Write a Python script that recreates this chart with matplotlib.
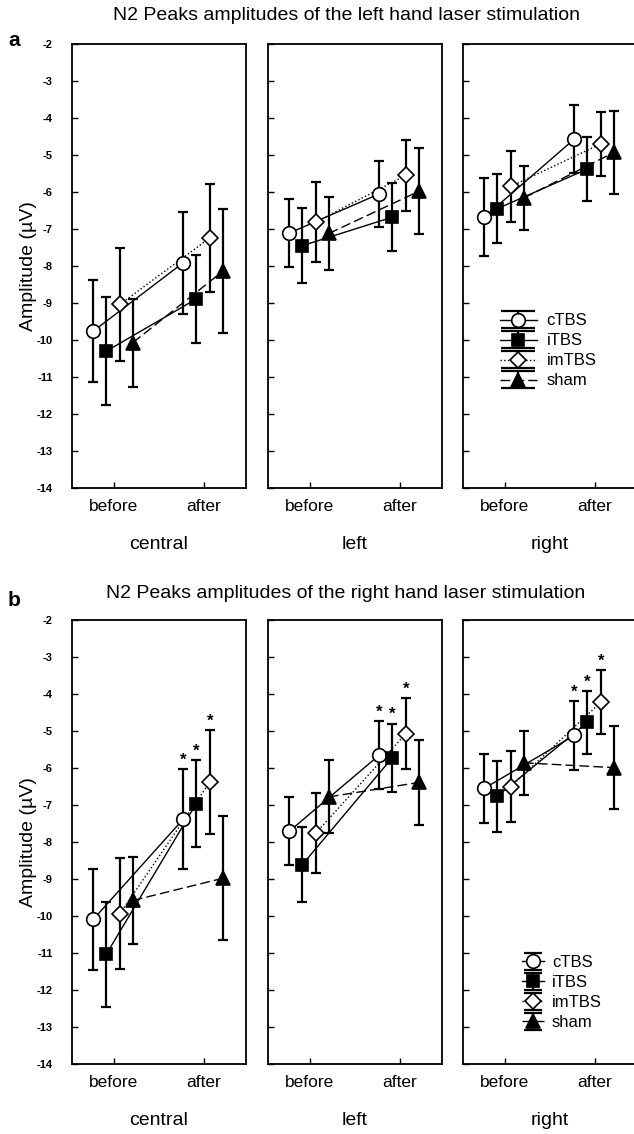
import matplotlib
matplotlib.use('Agg')
import matplotlib.pyplot as plt
import numpy as np
from matplotlib.lines import Line2D
from matplotlib.collections import LineCollection
from matplotlib.container import ErrorbarContainer

plt.rcParams['font.family'] = ['Liberation Sans', 'DejaVu Sans']
plt.rcParams['axes.unicode_minus'] = False

conditions = ['cTBS', 'iTBS', 'imTBS', 'sham']
sites = ['central', 'left', 'right']
times = ['before', 'after']

# N2 amplitudes (uV), [before, after] per condition
# panel a: left hand laser stimulation
lh_central_mean = [[-9.76, -7.91], [-10.30, -8.89], [-9.04, -7.24], [-10.07, -8.14]]
lh_central_err = [[1.37, 1.38], [1.45, 1.19], [1.52, 1.45], [1.19, 1.68]]
lh_left_mean = [[-7.11, -6.05], [-7.45, -6.68], [-6.81, -5.55], [-7.12, -5.98]]
lh_left_err = [[0.92, 0.90], [1.02, 0.91], [1.07, 0.96], [0.99, 1.16]]
lh_right_mean = [[-6.68, -4.57], [-6.45, -5.38], [-5.85, -4.70], [-6.16, -4.93]]
lh_right_err = [[1.05, 0.92], [0.94, 0.86], [0.97, 0.86], [0.87, 1.13]]

# panel b: right hand laser stimulation
rh_central_mean = [[-10.09, -7.38], [-11.03, -6.96], [-9.94, -6.38], [-9.58, -8.98]]
rh_central_err = [[1.37, 1.35], [1.42, 1.18], [1.50, 1.40], [1.18, 1.67]]
rh_left_mean = [[-7.71, -5.65], [-8.61, -5.72], [-7.76, -5.07], [-6.78, -6.39]]
rh_left_err = [[0.92, 0.91], [1.02, 0.92], [1.09, 0.96], [0.99, 1.16]]
rh_right_mean = [[-6.55, -5.12], [-6.76, -4.77], [-6.50, -4.22], [-5.86, -5.99]]
rh_right_err = [[0.93, 0.94], [0.96, 0.85], [0.95, 0.87], [0.86, 1.13]]

# significant "after" values (asterisks) in panel b
rh_signif = [True, True, True, False]

yticks = list(range(-14, -1))

# styling per condition
offsets = [-0.23, -0.085, 0.065, 0.21]
markers = ['o', 's', 'D', '^']
faces = ['white', 'black', 'white', 'black']
msizes = [9.8, 9.3, 7.8, 9.8]
lstyles = ['-', '-', ':', (0, (7, 3))]

W, H = 634, 1134
fig = plt.figure(figsize=(W / 100, H / 100), dpi=100)

lefts = [72, 268, 463]
widths = [174, 174, 180]   # last box runs past the right edge of the image
ax_h = 444
px_per_unit = 90.0


def make_ax(left, top, w):
    return fig.add_axes([left / W, 1 - (top + ax_h) / H, w / W, ax_h / H])


def legend_handles(capsize):
    hs = []
    for k in range(4):
        ln = Line2D([], [], color='black', lw=1.0, ls=lstyles[k], marker=markers[k],
                    ms=msizes[k], mfc=faces[k], mec='black', mew=1.2)
        cap = Line2D([], [], color='black', ls='none', marker='_', ms=2 * capsize, mew=1.6)
        bar = LineCollection([], colors='black', linewidths=1.6)
        hs.append(ErrorbarContainer((ln, (cap, cap), (bar,)), has_xerr=False, has_yerr=True))
    return hs


def draw_panel(ax, w, means, errs, signif=None, show_ylabels=False, site=''):
    for k in range(4):
        x = np.arange(2) + offsets[k]
        y = np.array(means[k])
        e = np.array(errs[k])
        ax.plot(x, y, color='black', lw=1.0, ls=lstyles[k], zorder=2)
        ax.errorbar(x, y, yerr=e, fmt='none', ecolor='black', elinewidth=1.6,
                    capsize=3.6, capthick=1.6, zorder=3)
        ax.plot(x, y, ls='none', marker=markers[k], ms=msizes[k], mfc=faces[k],
                mec='black', mew=1.2, zorder=4)
        if signif is not None and signif[k]:
            ax.annotate('*', (x[1], y[1] + e[1]), xytext=(0, 1), textcoords='offset points',
                        ha='center', va='bottom', fontsize=12, fontweight='bold')
    x0 = -42 / px_per_unit
    ax.set_xlim(x0, x0 + w / px_per_unit)
    ax.set_ylim(-14, -2)
    ax.set_xticks([0, 1])
    ax.set_xticklabels(times, fontsize=12.5)
    ax.set_yticks(yticks)
    if show_ylabels:
        ax.set_yticklabels([str(v) for v in yticks], fontsize=8, fontweight='bold')
        ax.set_ylabel('Amplitude (µV)', fontsize=14)
        ax.yaxis.set_label_coords(-0.2, 0.5)
    else:
        ax.set_yticklabels([])
    ax.tick_params(axis='y', direction='in', length=4, width=1, pad=14)
    ax.tick_params(axis='x', direction='in', length=4, width=1, pad=8)
    ax.set_xlabel(site, fontsize=14)
    # keep the site label centred on the 174 px box even for the wider last one
    ax.xaxis.set_label_coords((174 / 2) / w, -0.107)
    for s in ax.spines.values():
        s.set_linewidth(1.3)


lh = [(lh_central_mean, lh_central_err), (lh_left_mean, lh_left_err), (lh_right_mean, lh_right_err)]
rh = [(rh_central_mean, rh_central_err), (rh_left_mean, rh_left_err), (rh_right_mean, rh_right_err)]

for row, (top, data, sig) in enumerate([(44, lh, None), (620, rh, rh_signif)]):
    axes = []
    for j in range(3):
        ax = make_ax(lefts[j], top, widths[j])
        draw_panel(ax, widths[j], data[j][0], data[j][1], signif=sig,
                   show_ylabels=(j == 0), site=sites[j])
        axes.append(ax)
    r = axes[2]
    if row == 0:
        r.legend(legend_handles(12), conditions, loc='center left',
                 bbox_to_anchor=(37 / widths[2], 0.3086), frameon=False, fontsize=12,
                 handlelength=2.2, handletextpad=0.6, labelspacing=0.3,
                 borderpad=0, borderaxespad=0)
    else:
        r.legend(legend_handles(6.5), conditions, loc='center left',
                 bbox_to_anchor=(59 / widths[2], 0.161), frameon=False, fontsize=12,
                 handlelength=1.3, handletextpad=0.5, labelspacing=0.3,
                 borderpad=0, borderaxespad=0)

fig.text(346 / W, 1 - 16 / H, 'N2 Peaks amplitudes of the left hand laser stimulation',
         ha='center', va='center', fontsize=14)
fig.text(346 / W, 1 - 593 / H, 'N2 Peaks amplitudes of the right hand laser stimulation',
         ha='center', va='center', fontsize=14)
fig.text(14 / W, 1 - 40 / H, 'a', ha='center', va='center', fontsize=15, fontweight='bold')
fig.text(14 / W, 1 - 600 / H, 'b', ha='center', va='center', fontsize=15, fontweight='bold')

fig.savefig('out.png', dpi=100)
